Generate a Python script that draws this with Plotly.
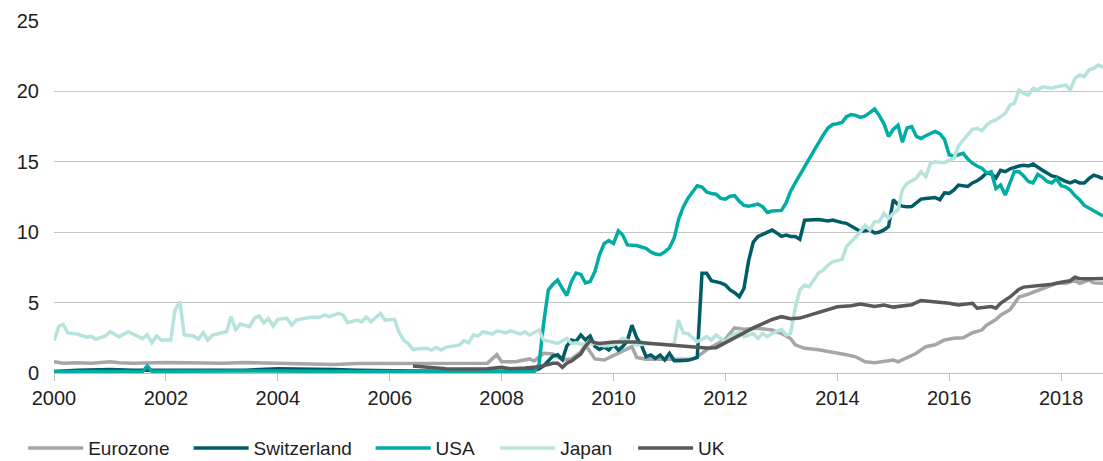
import plotly.graph_objects as go

# values (monthly where the lines move, sparser where flat)
eurozone_dates = ["2000-01", "2000-03", "2000-06", "2000-09", "2001-01", "2001-03", "2001-06", "2001-10",
                  "2002-01", "2002-06", "2003-01", "2003-06", "2003-10", "2004-03", "2004-10", "2005-01",
                  "2005-06", "2006-01", "2006-06", "2007-01", "2007-06", "2007-10", "2007-12", "2008-01",
                  "2008-04", "2008-07", "2008-08", "2008-10", "2008-12", "2009-02", "2009-04", "2009-06",
                  "2009-07", "2009-08", "2009-09", "2009-11", "2010-01", "2010-03", "2010-05", "2010-06",
                  "2010-08", "2011-06", "2011-07", "2011-09", "2011-11", "2012-01", "2012-03", "2012-05",
                  "2012-08", "2012-11", "2013-01", "2013-03", "2013-04", "2013-06", "2013-09", "2013-12",
                  "2014-03", "2014-05", "2014-07", "2014-09", "2014-12", "2015-01", "2015-02", "2015-04",
                  "2015-06", "2015-08", "2015-10", "2015-12", "2016-02", "2016-04", "2016-06", "2016-08",
                  "2016-09", "2016-11", "2016-12", "2017-02", "2017-03", "2017-04", "2017-06", "2017-08",
                  "2017-10", "2017-12", "2018-02", "2018-04", "2018-05", "2018-07", "2018-08", "2018-10"]
eurozone_values = [0.8, 0.7, 0.72, 0.7, 0.8, 0.72, 0.7, 0.75,
                   0.75, 0.72, 0.7, 0.75, 0.72, 0.65, 0.65, 0.6,
                   0.68, 0.68, 0.7, 0.7, 0.68, 0.7, 1.3, 0.8,
                   0.8, 1.0, 0.85, 1.4, 1.35, 0.95, 1.0, 1.5,
                   2.0, 1.5, 1.0, 0.92, 1.25, 1.5, 1.87, 1.1,
                   0.97, 0.97, 1.15, 1.65, 2.0, 2.4, 3.2, 3.1,
                   3.17, 3.05, 2.8, 2.45, 2.0, 1.75, 1.65, 1.5,
                   1.3, 1.15, 0.8, 0.73, 0.85, 0.92, 0.8, 1.1,
                   1.4, 1.87, 2.0, 2.35, 2.46, 2.5, 2.86, 3.05,
                   3.4, 3.8, 4.1, 4.5, 4.95, 5.4, 5.6, 5.85,
                   6.13, 6.37, 6.37, 6.56, 6.37, 6.6, 6.4, 6.37]

switzerland_dates = ["2000-01", "2000-06", "2001-01", "2001-06", "2002-01", "2002-06", "2003-01", "2003-06",
                     "2004-01", "2004-06", "2005-01", "2005-06", "2006-01", "2006-06", "2007-01", "2008-01",
                     "2008-08", "2008-09", "2008-10", "2008-11", "2008-12", "2009-01", "2009-02", "2009-03",
                     "2009-04", "2009-05", "2009-06", "2009-07", "2009-08", "2009-09", "2009-10", "2009-11",
                     "2009-12", "2010-01", "2010-02", "2010-03", "2010-04", "2010-05", "2010-06", "2010-07",
                     "2010-08", "2010-09", "2010-10", "2010-11", "2010-12", "2011-01", "2011-02", "2011-03",
                     "2011-04", "2011-05", "2011-06", "2011-07", "2011-08", "2011-09", "2011-10", "2011-11",
                     "2011-12", "2012-01", "2012-02", "2012-03", "2012-04", "2012-05", "2012-06", "2012-07",
                     "2012-08", "2012-09", "2012-10", "2012-11", "2012-12", "2013-01", "2013-02", "2013-03",
                     "2013-04", "2013-05", "2013-06", "2013-07", "2013-08", "2013-09", "2013-10", "2013-11",
                     "2013-12", "2014-01", "2014-02", "2014-03", "2014-04", "2014-05", "2014-06", "2014-07",
                     "2014-08", "2014-09", "2014-10", "2014-11", "2014-12", "2015-01", "2015-02", "2015-03",
                     "2015-04", "2015-05", "2015-06", "2015-07", "2015-08", "2015-09", "2015-10", "2015-11",
                     "2015-12", "2016-01", "2016-02", "2016-03", "2016-04", "2016-05", "2016-06", "2016-07",
                     "2016-08", "2016-09", "2016-10", "2016-11", "2016-12", "2017-01", "2017-02", "2017-03",
                     "2017-04", "2017-05", "2017-06", "2017-07", "2017-08", "2017-09", "2017-10", "2017-11",
                     "2017-12", "2018-01", "2018-02", "2018-03", "2018-04", "2018-05", "2018-06", "2018-07",
                     "2018-08", "2018-09", "2018-10"]
switzerland_values = [0.1, 0.2, 0.25, 0.2, 0.2, 0.2, 0.15, 0.2,
                      0.3, 0.3, 0.25, 0.2, 0.2, 0.15, 0.12, 0.12,
                      0.2, 0.3, 0.5, 0.9, 1.2, 1.3, 0.95, 1.9,
                      2.35, 2.25, 2.7, 2.35, 2.63, 1.9, 1.68, 1.85,
                      1.63, 2.0, 1.63, 1.87, 2.3, 3.4, 2.5, 2.0,
                      1.16, 1.28, 1.04, 1.28, 0.92, 1.4, 0.87, 0.87,
                      0.88, 0.9, 1.0, 1.1, 7.08, 7.08, 6.55, 6.49,
                      6.4, 6.25, 5.9, 5.7, 5.42, 6.0, 8.0, 9.3,
                      9.7, 9.85, 10.0, 10.15, 9.95, 9.7, 9.8, 9.7,
                      9.7, 9.5, 10.85, 10.87, 10.85, 10.9, 10.85, 10.8,
                      10.87, 10.75, 10.68, 10.63, 10.45, 10.25, 10.05, 10.1,
                      10.16, 9.95, 10.0, 10.16, 10.4, 12.3, 11.95, 11.85,
                      11.8, 11.82, 12.1, 12.35, 12.4, 12.45, 12.47, 12.3,
                      12.8, 12.76, 13.0, 13.35, 13.3, 13.25, 13.5, 13.65,
                      13.9, 14.2, 14.15, 13.85, 14.4, 14.3, 14.5, 14.6,
                      14.7, 14.75, 14.7, 14.84, 14.65, 14.4, 14.2, 14.0,
                      13.92, 13.75, 13.6, 13.5, 13.65, 13.5, 13.5, 13.8,
                      14.05, 13.95, 13.8]

usa_dates = ["2000-01", "2001-08", "2001-09", "2001-10", "2003-09", "2005-06", "2008-08",
             "2008-09", "2008-10", "2008-11", "2008-12", "2009-01", "2009-02", "2009-03", "2009-04",
             "2009-05", "2009-06", "2009-07", "2009-08", "2009-09", "2009-10", "2009-11", "2009-12",
             "2010-01", "2010-02", "2010-03", "2010-04", "2010-05", "2010-06", "2010-07", "2010-08",
             "2010-09", "2010-10", "2010-11", "2010-12", "2011-01", "2011-02", "2011-03", "2011-04",
             "2011-05", "2011-06", "2011-07", "2011-08", "2011-09", "2011-10", "2011-11", "2011-12",
             "2012-01", "2012-02", "2012-03", "2012-04", "2012-05", "2012-06", "2012-07", "2012-08",
             "2012-09", "2012-10", "2012-11", "2012-12", "2013-01", "2013-02", "2013-03", "2013-04",
             "2013-05", "2013-06", "2013-07", "2013-08", "2013-09", "2013-10", "2013-11", "2013-12",
             "2014-01", "2014-02", "2014-03", "2014-04", "2014-05", "2014-06", "2014-07", "2014-08",
             "2014-09", "2014-10", "2014-11", "2014-12", "2015-01", "2015-02", "2015-03", "2015-04",
             "2015-05", "2015-06", "2015-07", "2015-08", "2015-09", "2015-10", "2015-11", "2015-12",
             "2016-01", "2016-02", "2016-03", "2016-04", "2016-05", "2016-06", "2016-07", "2016-08",
             "2016-09", "2016-10", "2016-11", "2016-12", "2017-01", "2017-02", "2017-03", "2017-04",
             "2017-05", "2017-06", "2017-07", "2017-08", "2017-09", "2017-10", "2017-11", "2017-12",
             "2018-01", "2018-02", "2018-03", "2018-04", "2018-05", "2018-06", "2018-07", "2018-08",
             "2018-09", "2018-10"]
usa_values = [0.1, 0.1, 0.5, 0.12, 0.15, 0.1, 0.1,
              0.6, 3.5, 5.9, 6.3, 6.6, 6.0, 5.5, 6.5,
              7.1, 7.0, 6.4, 6.5, 7.2, 8.4, 9.2, 9.4,
              9.2, 10.1, 9.8, 9.1, 9.1, 9.05, 8.95, 8.85,
              8.6, 8.45, 8.4, 8.6, 8.9, 9.6, 10.9, 11.8,
              12.4, 12.9, 13.3, 13.2, 12.85, 12.75, 12.7, 12.4,
              12.35, 12.55, 12.6, 12.2, 11.9, 11.85, 11.9, 12.0,
              11.8, 11.4, 11.5, 11.5, 11.55, 12.1, 12.9, 13.5,
              14.1, 14.6, 15.2, 15.8, 16.4, 16.9, 17.4, 17.65,
              17.7, 17.8, 18.2, 18.35, 18.3, 18.15, 18.25, 18.5,
              18.75, 18.3, 17.7, 16.8, 17.3, 17.6, 16.4, 17.4,
              17.5, 16.8, 16.65, 16.85, 17.0, 17.15, 17.0, 16.6,
              15.5, 15.4, 15.5, 15.6, 15.2, 14.9, 14.7, 14.55,
              14.2, 14.3, 13.1, 13.35, 12.64, 13.6, 14.3, 14.3,
              14.0, 13.6, 13.5, 14.1, 13.9, 13.6, 13.5, 13.8,
              13.3, 13.2, 13.0, 12.6, 12.3, 11.9, 11.7, 11.5,
              11.3, 11.15]

japan_dates = ["2000-01", "2000-02", "2000-03", "2000-04", "2000-06", "2000-08", "2000-09", "2000-10",
               "2000-12", "2001-01", "2001-03", "2001-05", "2001-06", "2001-08", "2001-09", "2001-10",
               "2001-11", "2001-12", "2002-02", "2002-03", "2002-04", "2002-05", "2002-07", "2002-08",
               "2002-09", "2002-10", "2002-11", "2003-01", "2003-02", "2003-03", "2003-04", "2003-05",
               "2003-07", "2003-08", "2003-09", "2003-10", "2003-11", "2003-12", "2004-01", "2004-03",
               "2004-04", "2004-05", "2004-07", "2004-08", "2004-10", "2004-11", "2004-12", "2005-02",
               "2005-03", "2005-04", "2005-06", "2005-07", "2005-08", "2005-09", "2005-11", "2005-12",
               "2006-02", "2006-03", "2006-04", "2006-05", "2006-06", "2006-08", "2006-09", "2006-10",
               "2006-11", "2006-12", "2007-01", "2007-04", "2007-05", "2007-06", "2007-07", "2007-08",
               "2007-09", "2007-11", "2007-12", "2008-02", "2008-03", "2008-05", "2008-06", "2008-07",
               "2008-09", "2008-10", "2008-12", "2009-01", "2009-03", "2009-04", "2009-05", "2009-07",
               "2009-09", "2009-11", "2010-01", "2010-03", "2010-06", "2010-09", "2011-01", "2011-02",
               "2011-03", "2011-04", "2011-05", "2011-06", "2011-07", "2011-09", "2011-10", "2011-11",
               "2012-01", "2012-02", "2012-04", "2012-05", "2012-07", "2012-08", "2012-09", "2012-10",
               "2012-11", "2013-01", "2013-02", "2013-03", "2013-04", "2013-05", "2013-06", "2013-07",
               "2013-08", "2013-09", "2013-10", "2013-11", "2013-12", "2014-02", "2014-03", "2014-04",
               "2014-06", "2014-07", "2014-08", "2014-09", "2014-10", "2014-11", "2014-12", "2015-01",
               "2015-02", "2015-03", "2015-04", "2015-06", "2015-07", "2015-08", "2015-09", "2015-10",
               "2015-12", "2016-02", "2016-03", "2016-04", "2016-06", "2016-07", "2016-08", "2016-09",
               "2016-10", "2016-11", "2017-01", "2017-02", "2017-03", "2017-04", "2017-05", "2017-06",
               "2017-07", "2017-08", "2017-09", "2017-11", "2017-12", "2018-02", "2018-03", "2018-04",
               "2018-05", "2018-06", "2018-07", "2018-08", "2018-09", "2018-10"]
japan_values = [2.3, 3.3, 3.45, 2.85, 2.77, 2.55, 2.6, 2.4,
                2.63, 2.93, 2.58, 2.93, 2.77, 2.44, 2.72, 2.15,
                2.63, 2.34, 2.34, 4.47, 5.07, 2.7, 2.63, 2.4,
                2.86, 2.34, 2.7, 2.86, 2.93, 4.0, 3.1, 3.48,
                3.29, 3.88, 4.05, 3.57, 3.88, 3.34, 3.81, 3.88,
                3.41, 3.76, 3.88, 3.96, 3.96, 4.12, 4.0, 4.24,
                4.12, 3.57, 3.76, 3.64, 3.96, 3.64, 4.24, 3.76,
                3.81, 2.93, 2.34, 2.1, 1.68, 1.75, 1.75, 1.63,
                1.82, 1.63, 1.82, 1.99, 2.3, 2.15, 2.7, 2.63,
                2.93, 2.77, 2.98, 2.86, 3.0, 2.77, 2.93, 2.7,
                3.05, 2.34, 2.22, 2.1, 2.46, 2.1, 2.15, 1.99,
                2.1, 1.92, 1.99, 2.46, 2.0, 2.1, 2.0, 2.1,
                3.76, 2.84, 2.8, 2.48, 2.22, 2.58, 2.34, 2.7,
                2.22, 2.58, 2.93, 2.58, 2.8, 2.46, 2.8, 2.58,
                2.81, 3.1, 2.7, 2.81, 4.6, 5.9, 6.25, 6.13,
                6.6, 7.12, 7.3, 7.67, 7.9, 8.07, 8.97, 9.33,
                10.04, 10.5, 10.16, 10.75, 10.75, 11.34, 10.99, 11.34,
                11.58, 13.0, 13.47, 13.83, 14.3, 13.94, 14.89, 15.0,
                14.94, 15.25, 16.1, 16.55, 17.31, 17.38, 17.2, 17.61,
                17.85, 17.97, 18.44, 19.03, 19.15, 20.1, 19.86, 19.74,
                20.22, 20.1, 20.33, 20.22, 20.33, 20.45, 20.1, 20.92,
                21.16, 21.04, 21.52, 21.64, 21.87, 21.71]

uk_dates = ["2006-06", "2006-09", "2007-01", "2007-06", "2007-10", "2008-01", "2008-03", "2008-06",
            "2008-09", "2008-11", "2008-12", "2009-01", "2009-02", "2009-03", "2009-04", "2009-05",
            "2009-06", "2009-07", "2009-08", "2009-09", "2009-10", "2010-01", "2010-06", "2010-09",
            "2011-01", "2011-05", "2011-09", "2011-11", "2012-01", "2012-03", "2012-05", "2012-07",
            "2012-09", "2012-11", "2013-01", "2013-03", "2013-05", "2013-07", "2013-10", "2014-01",
            "2014-04", "2014-06", "2014-09", "2014-11", "2015-01", "2015-03", "2015-05", "2015-07",
            "2015-10", "2016-01", "2016-03", "2016-06", "2016-07", "2016-09", "2016-10", "2016-11",
            "2016-12", "2017-02", "2017-04", "2017-05", "2017-08", "2017-11", "2018-01", "2018-03",
            "2018-04", "2018-05", "2018-08", "2018-10"]
uk_values = [0.5, 0.4, 0.3, 0.28, 0.3, 0.4, 0.3, 0.35,
             0.45, 0.6, 0.69, 0.69, 0.4, 0.7, 0.85, 1.1,
             1.35, 1.9, 2.3, 2.15, 2.1, 2.2, 2.2, 2.1,
             2.0, 1.9, 1.78, 1.8, 2.15, 2.5, 2.9, 3.2,
             3.5, 3.8, 4.0, 3.85, 3.9, 4.1, 4.4, 4.7,
             4.78, 4.9, 4.72, 4.83, 4.68, 4.78, 4.85, 5.15,
             5.07, 4.95, 4.83, 4.95, 4.6, 4.66, 4.72, 4.6,
             4.95, 5.4, 5.95, 6.1, 6.18, 6.3, 6.45, 6.55,
             6.8, 6.7, 6.7, 6.72]

year_ticks = ["2000", "2002", "2004", "2006", "2008", "2010", "2012", "2014", "2016", "2018"]

# name, dates, values, colour, legend slot and its left edge (container fraction)
series = [
    ("Eurozone", eurozone_dates, eurozone_values, "#a6a6a6", "legend", 0.021),
    ("Switzerland", switzerland_dates, switzerland_values, "#005c66", "legend2", 0.171),
    ("USA", usa_dates, usa_values, "#00ada5", "legend3", 0.336),
    ("Japan", japan_dates, japan_values, "#b7e3dd", "legend4", 0.449),
    ("UK", uk_dates, uk_values, "#595959", "legend5", 0.574),
]

fig = go.Figure()
legends = {}
for name, dates, values, color, leg, lx in series:
    fig.add_trace(go.Scatter(x=dates, y=values, name=name, mode="lines",
                             line=dict(color=color, width=3.5), legend=leg))
    legends[leg] = dict(orientation="h", xref="container", yref="container",
                        x=lx, xanchor="left", y=0.028, yanchor="middle",
                        font=dict(size=19), itemwidth=55, bgcolor="rgba(0,0,0,0)")

fig.update_layout(
    width=1103, height=461,
    margin=dict(l=54, r=0, t=21, b=88),
    paper_bgcolor="white", plot_bgcolor="white",
    font=dict(family="Liberation Sans, Arial, sans-serif", size=20, color="#1e1e1e"),
    showlegend=True,
    xaxis=dict(
        type="date",
        range=["2000-01-01", "2018-10-01"],
        tickvals=[y + "-01-01" for y in year_ticks],
        ticktext=year_ticks,
        showgrid=False,
        showline=True, linecolor="#bdbdbd", linewidth=1,
        ticks="outside", ticklen=7, tickcolor="#bdbdbd",
        zeroline=False, automargin=False,
    ),
    yaxis=dict(
        range=[0, 25],
        dtick=5,
        showgrid=True, gridcolor="#c4c4c4", gridwidth=1,
        zeroline=False, showline=False,
        ticks="", ticklabelstandoff=14, automargin=False,
    ),
    **legends,
)

# the page's default body margin would shift the fixed-size figure by 8px
fig.write_html("out.html", config={"displayModeBar": False},
               post_script="document.body.style.margin='0';")
